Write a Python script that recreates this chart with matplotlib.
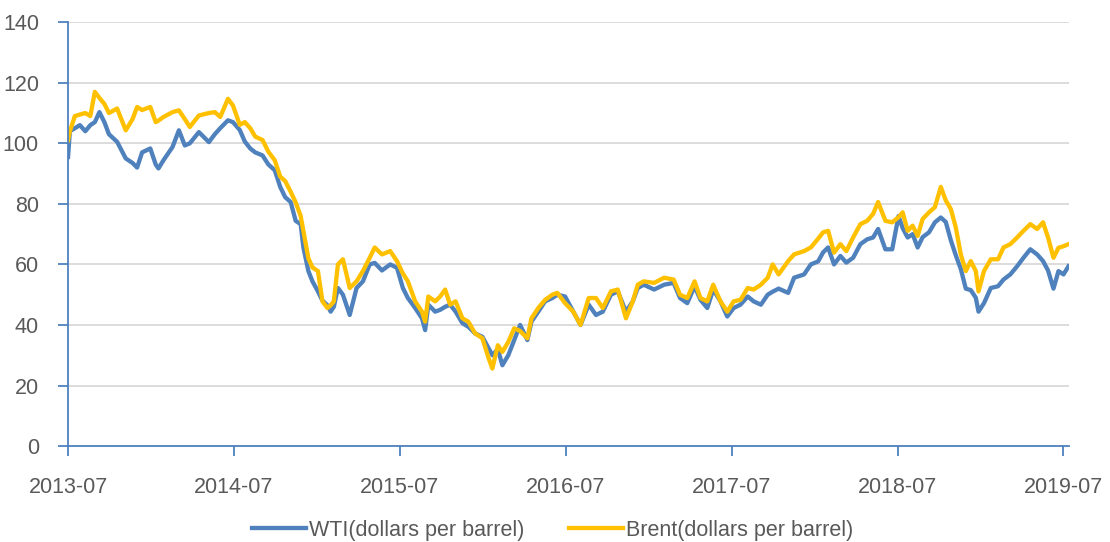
import matplotlib
matplotlib.use("Agg")
import matplotlib.pyplot as plt
import matplotlib.dates as mdates
import pandas as pd

# Daily crude prices (approx. every ~2 weeks)
dates = [
    "2013-07-01", "2013-07-05", "2013-07-16", "2013-07-27", "2013-08-08", "2013-08-19", "2013-08-29",
    "2013-09-08", "2013-09-19", "2013-09-29", "2013-10-17", "2013-11-05", "2013-11-20", "2013-11-30",
    "2013-12-11", "2013-12-29", "2014-01-10", "2014-01-16", "2014-01-27", "2014-02-16", "2014-03-02",
    "2014-03-15", "2014-03-26", "2014-04-15", "2014-05-07", "2014-05-20", "2014-06-01", "2014-06-18",
    "2014-06-29", "2014-07-14", "2014-07-25", "2014-08-06", "2014-08-17", "2014-09-02", "2014-09-15",
    "2014-09-29", "2014-10-11", "2014-10-22", "2014-11-03", "2014-11-14", "2014-11-25", "2014-12-01",
    "2014-12-12", "2014-12-21", "2015-01-02", "2015-01-12", "2015-01-23", "2015-01-30", "2015-02-06",
    "2015-02-15", "2015-02-26", "2015-03-13", "2015-03-28", "2015-04-11", "2015-04-26", "2015-05-07",
    "2015-05-23", "2015-06-10", "2015-06-25", "2015-07-08", "2015-07-19", "2015-08-04", "2015-08-19",
    "2015-08-26", "2015-09-02", "2015-09-17", "2015-09-28", "2015-10-09", "2015-10-20", "2015-11-01",
    "2015-11-16", "2015-11-29", "2015-12-14", "2015-12-30", "2016-01-13", "2016-01-21", "2016-02-02",
    "2016-02-12", "2016-02-25", "2016-03-09", "2016-03-22", "2016-04-07", "2016-04-16", "2016-05-01",
    "2016-05-16", "2016-06-01", "2016-06-12", "2016-06-29", "2016-07-17", "2016-08-02", "2016-08-20",
    "2016-09-05", "2016-09-20", "2016-10-08", "2016-10-23", "2016-11-10", "2016-11-25", "2016-12-06",
    "2016-12-19", "2017-01-11", "2017-02-02", "2017-02-23", "2017-03-09", "2017-03-25", "2017-04-10",
    "2017-04-23", "2017-05-08", "2017-05-21", "2017-06-06", "2017-06-21", "2017-07-05", "2017-07-20",
    "2017-08-05", "2017-08-18", "2017-09-03", "2017-09-18", "2017-09-29", "2017-10-12", "2017-11-02",
    "2017-11-15", "2017-12-07", "2017-12-22", "2018-01-07", "2018-01-18", "2018-01-29", "2018-02-11",
    "2018-02-25", "2018-03-10", "2018-03-25", "2018-04-10", "2018-04-25", "2018-05-08", "2018-05-19",
    "2018-06-04", "2018-06-19", "2018-07-03", "2018-07-12", "2018-07-23", "2018-08-03", "2018-08-14",
    "2018-08-25", "2018-09-08", "2018-09-21", "2018-10-04", "2018-10-15", "2018-10-26", "2018-11-06",
    "2018-11-17", "2018-11-28", "2018-12-09", "2018-12-20", "2018-12-26", "2019-01-07", "2019-01-22",
    "2019-02-07", "2019-02-19", "2019-03-06", "2019-03-21", "2019-04-04", "2019-04-19", "2019-05-04",
    "2019-05-17", "2019-05-28", "2019-06-09", "2019-06-20", "2019-07-01", "2019-07-12",
]

wti = [
    95.5, 104, 105, 106, 104, 106, 107,
    110.3, 107, 103, 100.5, 95, 93.5, 92,
    97, 98.3, 93, 91.7, 94.4, 98.8, 104.3,
    99.3, 100, 103.7, 100.4, 103, 105, 107.6,
    107, 104.4, 100.6, 98.3, 97, 96, 93,
    91.1, 85.6, 82.2, 80.6, 74.4, 73.3, 65.6,
    57.8, 54.4, 51.1, 48, 46.5, 44.4, 46,
    52.2, 50, 43.3, 52.2, 54.4, 60, 60.5,
    58, 60, 58.9, 52.2, 48.9, 45.6, 42.2,
    38.3, 46.7, 44.4, 45, 46, 46.7, 44.4,
    40.6, 39.4, 37.2, 36.1, 32.2, 30, 32,
    26.7, 30, 35, 40, 35, 41.1, 44.4,
    47.8, 48.9, 50, 49.4, 44.4, 40, 46.7,
    43.3, 44.4, 50, 51.1, 44.4, 47.8, 52.2,
    53.3, 51.7, 53.3, 53.9, 48.9, 47.2, 52.8,
    48.3, 45.6, 51.7, 47.8, 42.8, 45.6, 46.7,
    49.4, 47.8, 46.7, 50, 51, 52, 50.6,
    55.6, 56.7, 60, 61, 64, 65.6, 60,
    62.8, 60.6, 62.2, 66.7, 68.3, 68.9, 71.7,
    65, 65, 76, 72, 68.9, 70, 65.6,
    69, 70.6, 73.9, 75.5, 74, 68, 63,
    58.5, 52, 51.5, 49, 44.4, 47.2, 52.2,
    52.8, 55, 56.7, 59.4, 62.2, 65, 63.3,
    61.1, 58, 52, 57.8, 56.7, 59.4,
]

brent = [
    101, 104, 109, 109.5, 110, 109, 117,
    115, 113, 110, 111.5, 104.3, 108, 112,
    111, 112, 107, 107.5, 108.7, 110.3, 110.9,
    108, 105.4, 109.2, 110, 110.3, 108.7, 114.7,
    112.5, 106.1, 107, 105, 102.2, 101.1, 97.2,
    94.4, 89, 87.5, 84, 80.5, 76, 71,
    62, 59, 57.8, 47.8, 45.6, 46.5, 47.8,
    60, 61.7, 52.2, 54.4, 57.8, 62.2, 65.6,
    63.3, 64.4, 61.1, 57, 54.4, 47.8, 44.4,
    41.1, 49.4, 47.8, 49.4, 51.7, 46.7, 47.8,
    42.2, 41.1, 37.2, 35.6, 28.9, 25.6, 33.3,
    31.1, 34.4, 38.9, 38, 35.6, 42.2, 45.6,
    48.3, 50, 50.6, 47.2, 44.4, 40, 48.9,
    48.9, 45.6, 51.1, 51.7, 42.2, 47.8, 53.3,
    54.4, 53.9, 55.6, 55, 50, 48.9, 54.4,
    48.9, 47.8, 53.3, 47.8, 44.4, 47.8, 48.3,
    52.2, 51.7, 53.3, 55.6, 60, 56.7, 61.1,
    63.3, 64.4, 65.6, 68.5, 70.6, 71.1, 63.9,
    66.7, 64.4, 68.9, 73.3, 74.4, 76.7, 80.6,
    74.4, 73.9, 75.6, 77.2, 71.1, 72.8, 69.4,
    75, 77.2, 78.9, 85.6, 81.1, 78.3, 72.2,
    63.3, 57.8, 61.1, 57.8, 51.1, 57.8, 61.7,
    61.7, 65.6, 66.7, 68.9, 71.1, 73.3, 71.7,
    73.9, 68.9, 62.2, 65.5, 66, 66.7,
]

tick_dates = ["2013-07-01", "2014-07-01", "2015-07-01", "2016-07-01",
              "2017-07-01", "2018-07-01", "2019-07-01"]
series_names = ["WTI(dollars per barrel)", "Brent(dollars per barrel)"]

plt.rcParams['font.family'] = ['Liberation Sans', 'DejaVu Sans']

x = pd.to_datetime(dates)
text_color = "#595959"
axis_color = "#4F81BD"

fig = plt.figure(figsize=(11.1, 5.42), dpi=100)
ax = fig.add_axes([0.0613, 0.177, 0.9017, 0.782])

ax.plot(x, wti, color="#4F81BD", lw=3.1, label=series_names[0], zorder=3)
ax.plot(x, brent, color="#FFC000", lw=3.1, label=series_names[1], zorder=4)

ax.set_ylim(0, 140)
ax.set_yticks(range(0, 141, 20))
ax.set_xlim(pd.Timestamp("2013-07-01"), pd.Timestamp("2019-07-13"))
ax.set_xticks(pd.to_datetime(tick_dates))
ax.xaxis.set_major_formatter(mdates.DateFormatter("%Y-%m"))

ax.grid(axis="y", color="#D9D9D9", lw=1.3, zorder=0)
for side in ["top", "right"]:
    ax.spines[side].set_visible(False)
for side in ["left", "bottom"]:
    ax.spines[side].set_color(axis_color)
    ax.spines[side].set_linewidth(1.3)
    ax.spines[side].set_zorder(5)

ax.tick_params(axis="both", colors=axis_color, labelcolor=text_color,
               labelsize=15.5, length=7, width=1.3)
ax.tick_params(axis="y", pad=14)
ax.tick_params(axis="x", pad=15)

fig.legend(loc="center", bbox_to_anchor=(0.498, 0.022), ncol=2, frameon=False,
           fontsize=15.5, handlelength=2.5, handletextpad=0.15, columnspacing=2.1,
           labelcolor=text_color)

fig.savefig("out.png", dpi=100)
